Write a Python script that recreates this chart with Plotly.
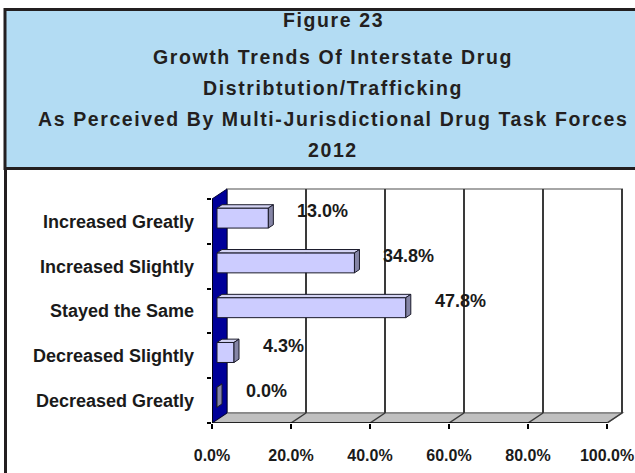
import plotly.graph_objects as go

# Survey responses, top to bottom as listed on the chart
categories = ["Increased Greatly", "Increased Slightly", "Stayed the Same",
              "Decreased Slightly", "Decreased Greatly"]
percent = [13.0, 34.8, 47.8, 4.3, 0.0]
x_ticks = [0, 20, 40, 60, 80, 100]
x_tick_text = ["0.0%", "20.0%", "40.0%", "60.0%", "80.0%", "100.0%"]
title_lines = ["Figure 23", "Growth Trends Of Interstate Drug",
               "Distribtution/Trafficking",
               "As Perceived By Multi-Jurisdictional Drug Task Forces", "2012"]

W, H = 635, 473
L, R, T, B = 212, 9, 186, 50
PX_X = 3.95          # pixels per percent point
PX_Y = 44.8          # pixels per category band
X_MAX = (W - R - L) / PX_X
Y_MIN = -0.5
Y_MAX = Y_MIN + (H - T - B) / PX_Y

# pseudo-3D depth of the plot box, in data units
DX = 15 / PX_X
DY = 10 / PX_Y
BAR_H = 20 / PX_Y
F0, F1 = 1 / 3, 2 / 3     # bar front / back position within the depth

n = len(categories)
ypos = [n - 1 - i for i in range(n)]   # first category on top
top = n - 0.5


def path(pts):
    return "M " + " L ".join(f"{x},{y}" for x, y in pts) + " Z"


def px(xp):
    return (xp - L) / (W - L - R)


def py(yp):
    return (H - B - yp) / (H - T - B)


shapes = []
# back wall
shapes.append(dict(type="path", xref="x", yref="y", layer="below",
                   path=path([(DX, Y_MIN + DY), (DX, top + DY), (100 + DX, top + DY), (100 + DX, Y_MIN + DY)]),
                   fillcolor="white", line=dict(color="#a6a6a6", width=2)))
# floor
shapes.append(dict(type="path", xref="x", yref="y", layer="below",
                   path=path([(0, Y_MIN), (100, Y_MIN), (100 + DX, Y_MIN + DY), (DX, Y_MIN + DY)]),
                   fillcolor="#c0c0c0", line=dict(color="#808080", width=1.5)))
# gridlines on the back wall and their floor traces
for v in x_ticks[1:]:
    shapes.append(dict(type="line", xref="x", yref="y", layer="below",
                       x0=v + DX, x1=v + DX, y0=Y_MIN + DY, y1=top + DY,
                       line=dict(color="#3a3a3a", width=2)))
    shapes.append(dict(type="line", xref="x", yref="y", layer="below",
                       x0=v, x1=v + DX, y0=Y_MIN, y1=Y_MIN + DY,
                       line=dict(color="#3a3a3a", width=1.5)))
# left wall
shapes.append(dict(type="path", xref="x", yref="y", layer="below",
                   path=path([(0, Y_MIN), (0, top), (DX, top + DY), (DX, Y_MIN + DY)]),
                   fillcolor="#000099", line=dict(color="#000033", width=1)))
# front axis lines
shapes.append(dict(type="line", xref="x", yref="y", x0=0, x1=100, y0=Y_MIN, y1=Y_MIN,
                   line=dict(color="black", width=1.5)))
shapes.append(dict(type="line", xref="x", yref="y", x0=0, x1=0, y0=Y_MIN, y1=top,
                   line=dict(color="black", width=1.5)))

# top and side faces of each bar
for v, yc in zip(percent, ypos):
    x0f, x0b = DX * F0, DX * F1
    yf, yb = DY * F0, DY * F1
    lo, hi = yc - BAR_H / 2, yc + BAR_H / 2
    shapes.append(dict(type="path", xref="x", yref="y",
                       path=path([(x0f, hi + yf), (v + x0f, hi + yf), (v + x0b, hi + yb), (x0b, hi + yb)]),
                       fillcolor="#d4d4f4", line=dict(color="#1a1a2a", width=1)))
    shapes.append(dict(type="path", xref="x", yref="y",
                       path=path([(v + x0f, lo + yf), (v + x0f, hi + yf), (v + x0b, hi + yb), (v + x0b, lo + yb)]),
                       fillcolor="#8585a6", line=dict(color="#1a1a2a", width=1)))

# header panel and page edge
shapes.append(dict(type="rect", xref="paper", yref="paper",
                   x0=px(5), x1=px(650), y0=py(9.5), y1=py(168.5),
                   fillcolor="#b3dcf3", line=dict(color="#231f20", width=3)))
shapes.append(dict(type="line", xref="paper", yref="paper",
                   x0=px(5.5), x1=px(5.5), y0=py(168), y1=py(480),
                   line=dict(color="#231f20", width=3)))

fig = go.Figure()
fig.add_trace(go.Bar(
    orientation="h",
    x=percent,
    y=[yc + DY * F0 for yc in ypos],
    base=DX * F0,
    width=BAR_H,
    marker=dict(color="#ccccff", line=dict(color="#1a1a2a", width=1)),
    hoverinfo="skip",
))

annotations = []
label_font = dict(family="Liberation Sans, Arial, sans-serif", size=18, color="#1a1a1a", weight="bold")
tick_font = dict(label_font, size=16)
for v, yc in zip(percent, ypos):
    annotations.append(dict(x=v, y=yc, xref="x", yref="y", text=f"{v:.1f}%",
                            showarrow=False, xanchor="left", yanchor="middle",
                            xshift=32, yshift=10, font=label_font))

title_y = [20, 57, 88, 119, 150]
for line, yc in zip(title_lines, title_y):
    annotations.append(dict(x=px(333), y=py(yc), xref="paper", yref="paper",
                            text=f'<span style="letter-spacing:1.6px">{line}</span>',
                            showarrow=False, xanchor="center", yanchor="middle",
                            font=dict(family="Liberation Sans, Arial, sans-serif", size=19.5,
                                      color="#231f20", weight="bold")))

fig.update_layout(
    width=W, height=H,
    margin=dict(l=L, r=R, t=T, b=B, autoexpand=False),
    paper_bgcolor="white", plot_bgcolor="white",
    showlegend=False,
    shapes=shapes,
    annotations=annotations,
    xaxis=dict(range=[0, X_MAX], tickmode="array", tickvals=x_ticks, ticktext=x_tick_text,
               showgrid=False, zeroline=False, showline=False, automargin=False,
               ticks="outside", ticklen=5, tickcolor="black", tickwidth=1.5,
               ticklabelstandoff=13, ticklabeloverflow="allow", tickfont=tick_font,
               fixedrange=True),
    yaxis=dict(range=[Y_MIN, Y_MAX], tickmode="array", tickvals=ypos, ticktext=categories,
               showgrid=False, zeroline=False, showline=False, automargin=False,
               ticks="", ticklabelstandoff=17, tickfont=label_font,
               minor=dict(tickmode="array", tickvals=[i - 0.5 for i in range(n + 1)],
                          ticks="outside", ticklen=4, tickcolor="black", tickwidth=1.5),
               fixedrange=True),
)

fig.write_html("out.html")
